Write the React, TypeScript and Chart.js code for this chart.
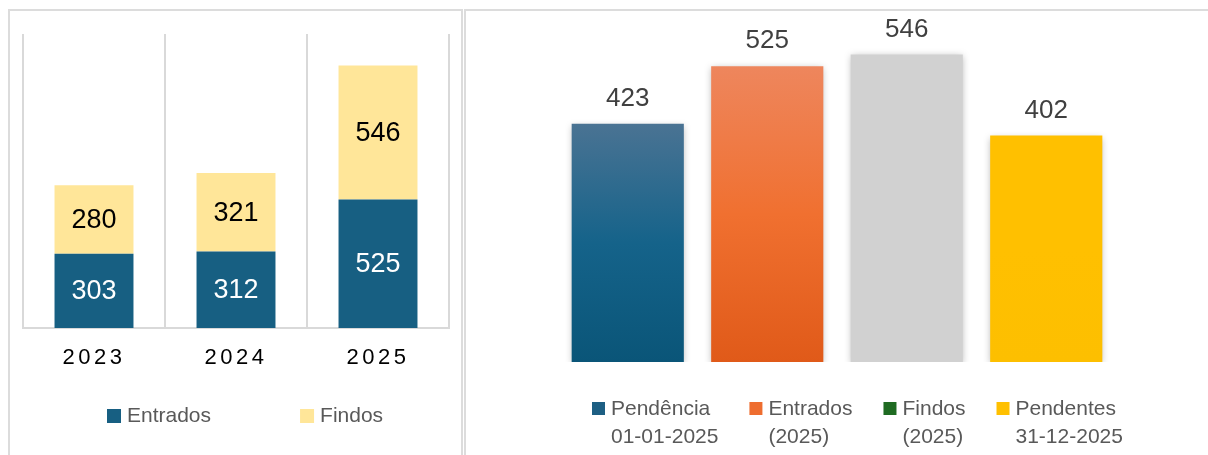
import React, { useEffect, useRef } from 'react';
import { Chart, registerables } from 'chart.js';

Chart.register(...registerables);

// ---------- data ----------
const years = ['2023', '2024', '2025'];
const stackSeries = ['Entrados', 'Findos'];
const entradosByYear = [303, 312, 525];
const findosByYear = [280, 321, 546];
const stackColors = ['#175f82', '#ffe699'];
const stackLabelColors = ['#ffffff', '#000000'];

const summaryCategories = [
  ['Pendência', '01-01-2025'],
  ['Entrados', '(2025)'],
  ['Findos', '(2025)'],
  ['Pendentes', '31-12-2025'],
];
const summaryValues = [423, 525, 546, 402];
const summaryGradients = [
  ['#4a7393', '#15638a', '#0a5578'],
  ['#ee865d', '#f07030', '#e05a19'],
  ['#d1d1d1', '#d1d1d1', '#d1d1d1'],
  ['#ffc000', '#ffc000', '#fdbf00'],
];
const summaryLegendColors = ['#1d5f83', '#ee6d2f', '#1f6b22', '#ffc000'];

const FONT = "'Liberation Sans', Arial, sans-serif";

// ---------- plugins ----------
const stackLabelsPlugin = {
  id: 'stackLabels',
  afterDatasetsDraw(chart: any) {
    const ctx = chart.ctx;
    ctx.save();
    ctx.font = `27px ${FONT}`;
    ctx.textAlign = 'center';
    ctx.textBaseline = 'middle';
    chart.data.datasets.forEach((ds: any, di: number) => {
      const meta = chart.getDatasetMeta(di);
      meta.data.forEach((el: any, i: number) => {
        const { x, y, base } = el.getProps(['x', 'y', 'base'], true);
        ctx.fillStyle = stackLabelColors[di];
        ctx.fillText(String(ds.data[i]), x, (y + base) / 2 + 1);
      });
    });
    ctx.restore();
  },
};

const spacedTicksPlugin = {
  id: 'spacedTicks',
  beforeDraw(chart: any) {
    chart.ctx.letterSpacing = '3.5px';
  },
  beforeDatasetsDraw(chart: any) {
    chart.ctx.letterSpacing = '0px';
  },
};

const stackLegendPlugin = {
  id: 'stackLegend',
  afterDraw(chart: any) {
    const ctx = chart.ctx;
    ctx.save();
    ctx.font = `21px ${FONT}`;
    ctx.textBaseline = 'middle';
    ctx.textAlign = 'left';
    let x = 107;
    const cy = 416;
    chart.data.datasets.forEach((ds: any) => {
      ctx.fillStyle = ds.backgroundColor;
      ctx.fillRect(x, cy - 7, 14, 14);
      ctx.fillStyle = '#595959';
      ctx.fillText(ds.label, x + 20, cy);
      x += 20 + ctx.measureText(ds.label).width + 89;
    });
    ctx.restore();
  },
};

const summaryLegendPlugin = {
  id: 'summaryLegend',
  afterDraw(chart: any) {
    const ctx = chart.ctx;
    ctx.save();
    ctx.font = `21px ${FONT}`;
    ctx.textBaseline = 'middle';
    ctx.textAlign = 'left';
    let x = 128;
    const cy = 409;
    const lineH = 28;
    (chart.data.labels as string[][]).forEach((lines, i) => {
      ctx.fillStyle = summaryLegendColors[i];
      ctx.fillRect(x, cy - 7, 13, 13);
      ctx.fillStyle = '#595959';
      let w = 0;
      lines.forEach((line, li) => {
        ctx.fillText(line, x + 19, cy + li * lineH);
        w = Math.max(w, ctx.measureText(line).width);
      });
      x += 19 + w + 31;
    });
    ctx.restore();
  },
};

const shadowPlugin = {
  id: 'barShadow',
  beforeDatasetsDraw(chart: any) {
    const ctx = chart.ctx;
    ctx.save();
    ctx.shadowColor = 'rgba(0,0,0,0.28)';
    ctx.shadowBlur = 7;
    ctx.shadowOffsetX = 0;
    ctx.shadowOffsetY = 2;
  },
  afterDatasetsDraw(chart: any) {
    chart.ctx.restore();
  },
};

const valueLabelsPlugin = {
  id: 'valueLabels',
  afterDraw(chart: any) {
    const ctx = chart.ctx;
    ctx.save();
    ctx.font = `26px ${FONT}`;
    ctx.fillStyle = '#404040';
    ctx.textAlign = 'center';
    ctx.textBaseline = 'middle';
    const meta = chart.getDatasetMeta(0);
    meta.data.forEach((el: any, i: number) => {
      const { x, y } = el.getProps(['x', 'y'], true);
      ctx.fillText(String(chart.data.datasets[0].data[i]), x, y - 25);
    });
    ctx.restore();
  },
};

export default function App() {
  const leftRef = useRef<HTMLCanvasElement>(null);
  const rightRef = useRef<HTMLCanvasElement>(null);

  useEffect(() => {
    const left = new Chart(leftRef.current as HTMLCanvasElement, {
      type: 'bar',
      data: {
        labels: years,
        datasets: [
          {
            label: stackSeries[0],
            data: entradosByYear,
            backgroundColor: stackColors[0],
            categoryPercentage: 1,
            barPercentage: 0.556,
          },
          {
            label: stackSeries[1],
            data: findosByYear,
            backgroundColor: stackColors[1],
            categoryPercentage: 1,
            barPercentage: 0.556,
          },
        ],
      },
      options: {
        animation: false,
        responsive: false,
        layout: { padding: { left: 23, right: 15, top: 34, bottom: 0 } },
        plugins: { legend: { display: false }, tooltip: { enabled: false } },
        scales: {
          x: {
            stacked: true,
            grid: { color: '#d9d9d9', lineWidth: 2, drawTicks: false, offset: true },
            border: { color: '#d9d9d9', width: 2 },
            ticks: { color: '#000000', font: { family: FONT, size: 22 }, padding: 17 },
            afterFit: (s: any) => {
              s.height = 127;
            },
          },
          y: { stacked: true, display: false, min: 0, max: 1200 },
        },
      } as any,
      plugins: [spacedTicksPlugin, stackLabelsPlugin, stackLegendPlugin],
    });

    const right = new Chart(rightRef.current as HTMLCanvasElement, {
      type: 'bar',
      data: {
        labels: summaryCategories,
        datasets: [
          {
            label: 'Total',
            data: summaryValues,
            categoryPercentage: 1,
            barPercentage: 0.804,
            backgroundColor: (c: any) => {
              const idx = c.dataIndex ?? 0;
              const stops = summaryGradients[idx] || summaryGradients[0];
              const chart = c.chart;
              if (!chart.chartArea || c.type !== 'data' || !chart.scales.y) return stops[1];
              const ys = chart.scales.y;
              const top = ys.getPixelForValue(c.raw);
              const bottom = ys.getPixelForValue(0);
              const g = chart.ctx.createLinearGradient(0, top, 0, bottom);
              g.addColorStop(0, stops[0]);
              g.addColorStop(0.5, stops[1]);
              g.addColorStop(1, stops[2]);
              return g;
            },
          },
        ],
      },
      options: {
        animation: false,
        responsive: false,
        layout: { padding: { left: 94, right: 92, top: 24, bottom: 0 } },
        plugins: {
          tooltip: { enabled: false },
          legend: { display: false },
        },
        scales: {
          x: {
            display: true,
            grid: { display: false },
            border: { display: false },
            ticks: { display: false },
            afterFit: (s: any) => {
              s.height = 93;
            },
          },
          y: { display: false, min: 0, max: 600 },
        },
      } as any,
      plugins: [shadowPlugin, valueLabelsPlugin, summaryLegendPlugin],
    });

    return () => {
      left.destroy();
      right.destroy();
    };
  }, []);

  return (
    <div
      style={{
        position: 'absolute',
        left: 0,
        top: 0,
        width: 1208,
        height: 455,
        overflow: 'hidden',
        background: '#ffffff',
      }}
    >
      <div
        style={{
          position: 'absolute',
          left: 8,
          top: 9,
          width: 451,
          height: 480,
          borderLeft: '2px solid #dcdcdc',
          borderTop: '2px solid #dcdcdc',
          borderRight: '2px solid #dcdcdc',
        }}
      />
      <div
        style={{
          position: 'absolute',
          left: 464,
          top: 9,
          width: 800,
          height: 480,
          borderLeft: '2px solid #dcdcdc',
          borderTop: '2px solid #dcdcdc',
        }}
      />
      <canvas
        ref={leftRef}
        width={464}
        height={455}
        style={{ position: 'absolute', left: 0, top: 0, width: 464, height: 455 }}
      />
      <canvas
        ref={rightRef}
        width={744}
        height={455}
        style={{ position: 'absolute', left: 464, top: 0, width: 744, height: 455 }}
      />
    </div>
  );
}
